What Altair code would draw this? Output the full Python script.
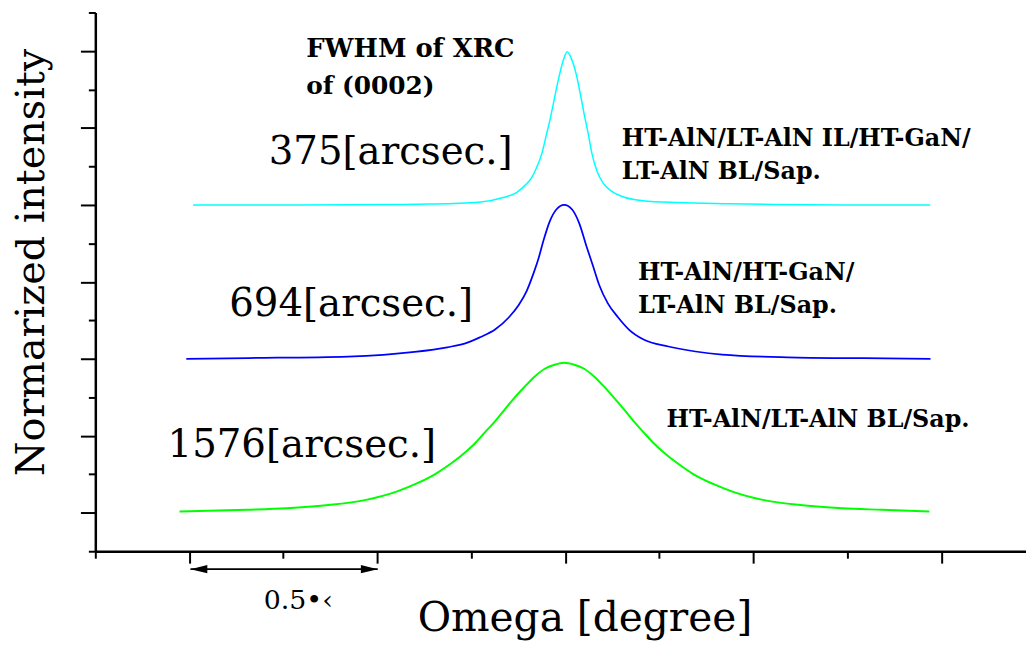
import altair as alt
import pandas as pd

# ---- data (omega in degrees, intensity in arbitrary stacked units) ----
cyan_x = [-0.99, -0.71, -0.45, -0.36, -0.23, -0.165, -0.13, -0.108, -0.09, -0.077, -0.063, -0.05,
          -0.04, -0.029, -0.018, -0.005, 0.005, 0.016, 0.029, 0.04, 0.05, 0.061, 0.071, 0.084,
          0.1, 0.121, 0.153, 0.206, 0.3, 0.433, 0.557, 0.74, 0.97]
cyan_y = [9.0, 9.0, 9.01, 9.02, 9.07, 9.19, 9.32, 9.5, 9.7, 9.96, 10.32, 10.84,
          11.25, 11.77, 12.28, 12.77, 12.98, 12.8, 12.39, 11.87, 11.36, 10.84, 10.32, 9.88,
          9.57, 9.37, 9.21, 9.11, 9.06, 9.03, 9.01, 9.0, 9.0]

blue_x = [-1.008, -0.842, -0.578, -0.401, -0.314, -0.266, -0.227, -0.187, -0.15, -0.124, -0.103,
          -0.084, -0.071, -0.058, -0.042, -0.024, -0.003, 0.018, 0.037, 0.055, 0.074, 0.09,
          0.113, 0.14, 0.169, 0.208, 0.274, 0.346, 0.417, 0.591, 0.792, 0.971]
blue_y = [5.0, 5.02, 5.06, 5.18, 5.3, 5.4, 5.56, 5.76, 6.08, 6.4, 6.76,
          7.24, 7.62, 8.08, 8.56, 8.88, 9.0, 8.88, 8.52, 7.96, 7.4, 6.92,
          6.44, 6.08, 5.76, 5.5, 5.32, 5.19, 5.11, 5.04, 5.016, 5.0]

green_x = [-1.026, -0.847, -0.741, -0.636, -0.53, -0.451, -0.398, -0.346, -0.306, -0.266, -0.24,
           -0.214, -0.187, -0.161, -0.135, -0.108, -0.082, -0.055, -0.029, -0.003, 0.024, 0.05,
           0.077, 0.103, 0.129, 0.156, 0.182, 0.208, 0.235, 0.261, 0.301, 0.34, 0.393, 0.446,
           0.525, 0.631, 0.736, 0.842, 0.968]
green_y = [1.034, 1.077, 1.116, 1.194, 1.335, 1.542, 1.748, 2.006, 2.265, 2.574, 2.806,
           3.09, 3.374, 3.684, 3.994, 4.277, 4.535, 4.742, 4.845, 4.897, 4.845, 4.742,
           4.535, 4.277, 3.994, 3.684, 3.374, 3.09, 2.806, 2.574, 2.265, 2.006, 1.748, 1.542,
           1.335, 1.194, 1.116, 1.077, 1.034]

series_names = ["HT-AlN/LT-AlN IL/HT-GaN/LT-AlN BL/Sap.", "HT-AlN/HT-GaN/LT-AlN BL/Sap.", "HT-AlN/LT-AlN BL/Sap."]
series_colors = ["#00ffff", "#0000ff", "#00ff00"]
series_widths = [1.5, 2.0, 3.0]

x_ticks = [-1.25, -1.0, -0.75, -0.5, -0.25, 0.0, 0.25, 0.5, 0.75, 1.0]
y_ticks = list(range(15))

# annotation texts (position in data units)
bold_text = ["FWHM of XRC", "of (0002)", "HT-AlN/LT-AlN IL/HT-GaN/", "LT-AlN BL/Sap.",
             "HT-AlN/HT-GaN/", "LT-AlN BL/Sap.", "HT-AlN/LT-AlN BL/Sap."]
bold_x = [-0.689, -0.689, 0.150, 0.150, 0.193, 0.193, 0.269]
bold_y = [12.85, 11.88, 10.53, 9.68, 7.05, 6.19, 3.23]
bold_size = [26, 25, 24, 24, 24, 24, 24]

reg_text = ["375[arcsec.]", "694[arcsec.]", "1576[arcsec.]", "0.5•‹"]
reg_x = [-0.789, -0.894, -1.058, -0.802]
reg_y = [10.07, 6.12, 2.45, -1.50]
reg_size = [39, 39, 39, 27]

arrow_x = [-0.997]
arrow_x2 = [-0.499]
arrow_y = [-0.465]

# ---- build tables ----
frames = []
for name, xs, ys in zip(series_names, [cyan_x, blue_x, green_x], [cyan_y, blue_y, green_y]):
    frames.append(pd.DataFrame({"omega": xs, "intensity": ys, "sample": name}))
curves = pd.concat(frames, ignore_index=True)

bold_df = pd.DataFrame({"omega": bold_x, "intensity": bold_y, "label": bold_text, "fs": bold_size})
reg_df = pd.DataFrame({"omega": reg_x, "intensity": reg_y, "label": reg_text, "fs": reg_size})
arrow_df = pd.DataFrame({"omega": arrow_x, "omega2": arrow_x2, "intensity": arrow_y})

FONT = "DejaVu Serif"

xscale = alt.Scale(domain=[-1.25, 1.225], nice=False, zero=False)
yscale = alt.Scale(domain=[0, 14], nice=False, zero=False)

x_axis = alt.Axis(
    values=x_ticks, tickCount=100, labels=False, grid=False,
    domainColor="black", domainWidth=2.5,
    tickColor="black", tickWidth=2, tickSize=12,
    tickDash={"condition": {"test": "abs(datum.value*2 - round(datum.value*2)) > 0.01", "value": [7, 40]},
              "value": [20, 1]},
    title="Omega [degree]", titleFont=FONT, titleFontSize=41, titleFontWeight="normal",
    titleColor="black", titleX=493, titleY=80, titleAlign="center", titleBaseline="alphabetic",
)
y_axis = alt.Axis(
    values=y_ticks, tickCount=100, labels=False, grid=False,
    domainColor="black", domainWidth=2.5,
    tickColor="black", tickWidth=2, tickSize=15,
    tickDash={"condition": {"test": "datum.value % 2 === 0", "value": [7, 40]}, "value": [20, 1]},
    title="Normarized intensity", titleFont=FONT, titleFontSize=40, titleFontWeight="normal",
    titleColor="black", titleAngle=270, titleX=-52, titleY=251.5, titleAlign="center",
    titleBaseline="alphabetic",
)

lines = alt.Chart(curves).mark_line(interpolate="monotone").encode(
    x=alt.X("omega:Q", scale=xscale, axis=x_axis),
    y=alt.Y("intensity:Q", scale=yscale, axis=y_axis),
    color=alt.Color("sample:N", scale=alt.Scale(domain=series_names, range=series_colors), legend=None),
    strokeWidth=alt.StrokeWidth("sample:N", scale=alt.Scale(domain=series_names, range=series_widths), legend=None),
)

bold_layer = alt.Chart(bold_df).mark_text(
    font=FONT, fontWeight="bold", align="left", baseline="alphabetic", color="black"
).encode(
    x=alt.X("omega:Q", scale=xscale), y=alt.Y("intensity:Q", scale=yscale),
    text="label:N", size=alt.Size("fs:Q", scale=None),
)

reg_layer = alt.Chart(reg_df).mark_text(
    font=FONT, fontWeight="normal", align="left", baseline="alphabetic", color="black"
).encode(
    x=alt.X("omega:Q", scale=xscale), y=alt.Y("intensity:Q", scale=yscale),
    text="label:N", size=alt.Size("fs:Q", scale=None),
)

arrow_line = alt.Chart(arrow_df).mark_rule(color="black", strokeWidth=1.6).encode(
    x=alt.X("omega:Q", scale=xscale), x2="omega2:Q", y=alt.Y("intensity:Q", scale=yscale),
)
head_left = alt.Chart(arrow_df).mark_point(
    shape="M0,0L1,-0.25L1,0.25Z", filled=True, color="black", opacity=1, size=1156, strokeWidth=0
).encode(x=alt.X("omega:Q", scale=xscale), y=alt.Y("intensity:Q", scale=yscale))
head_right = alt.Chart(arrow_df).mark_point(
    shape="M0,0L-1,-0.25L-1,0.25Z", filled=True, color="black", opacity=1, size=1156, strokeWidth=0
).encode(x=alt.X("omega2:Q", scale=xscale), y=alt.Y("intensity:Q", scale=yscale))

chart = alt.layer(lines, bold_layer, reg_layer, arrow_line, head_left, head_right).properties(
    width=938, height=543,
    autosize=alt.AutoSizeParams(type="none"),
    padding={"left": 88, "top": 2, "right": 0, "bottom": 92},
    background="white",
).configure_view(stroke=None)

chart.save("out.html", embed_options={"renderer": "svg", "actions": False})
